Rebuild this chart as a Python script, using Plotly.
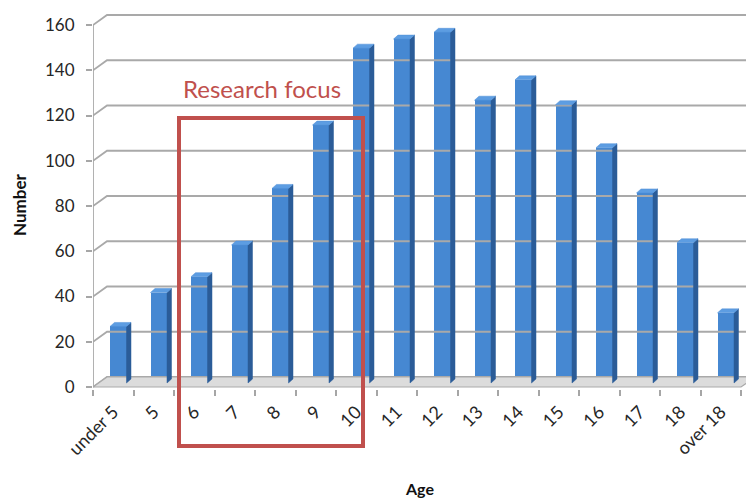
import plotly.graph_objects as go

# ---- data -------------------------------------------------------------
ages = ["under 5", "5", "6", "7", "8", "9", "10", "11", "12", "13",
        "14", "15", "16", "17", "18", "over 18"]
counts = [25, 40, 47, 61, 86, 114, 148, 152, 155, 125, 134, 123, 104, 84, 62, 31]
y_ticks = [0, 20, 40, 60, 80, 100, 120, 140, 160]

# ---- geometry (pixels) ------------------------------------------------
W, H = 746, 500
PLOT_L, PLOT_R, PLOT_T, PLOT_B = 93, 746, 5, 389
CAT_PX = 40.5          # width of one category
Y_PX = 2.2625          # pixels per unit on the value axis
Y_ZERO = 387           # pixel row of value 0 on the front plane

x_range = [-0.5, -0.5 + (PLOT_R - PLOT_L) / CAT_PX]
y_range = [-(PLOT_B - Y_ZERO) / Y_PX, (Y_ZERO - PLOT_T) / Y_PX]

# pseudo-3D depth offsets converted to axis units
wall_dx, wall_dy = 14 / CAT_PX, 10 / Y_PX      # back wall
lift = 4 / Y_PX                                # bars stand a little into the floor
bar_off, bar_w = -3.25 / CAT_PX, 16.5 / CAT_PX
side_dx, side_dy = 4.5 / CAT_PX, 4 / Y_PX

n = len(ages)
xpos = list(range(n))


def px_x(p):
    return (p - PLOT_L) / (PLOT_R - PLOT_L)


def px_y(p):
    return (PLOT_B - p) / (PLOT_B - PLOT_T)


fig = go.Figure()

# back-wall gridlines with their diagonal connectors, plus the front value axis
gx, gy = [], []
for v in y_ticks:
    gx += [-0.5, -0.5 + wall_dx, x_range[1] + 1, None]
    gy += [v, v + wall_dy, v + wall_dy, None]
gx += [-0.5, -0.5, None]
gy += [0, y_ticks[-1], None]
fig.add_trace(go.Scatter(x=gx, y=gy, mode="lines",
                         line=dict(color="#a9a9a9", width=1.8),
                         hoverinfo="skip", showlegend=False))

# floor
x_end = n - 0.5
fig.add_trace(go.Scatter(
    x=[-0.5, x_end, x_end + wall_dx, -0.5 + wall_dx, -0.5],
    y=[0, 0, wall_dy, wall_dy, 0],
    mode="lines", fill="toself", fillcolor="#dcdcdc",
    line=dict(color="#a9a9a9", width=1.2),
    hoverinfo="skip", showlegend=False))

# side and top faces of the columns
sx, sy, tx, ty = [], [], [], []
for i, v in enumerate(counts):
    xl = i + bar_off
    xr = xl + bar_w
    top = lift + v
    sx += [xr, xr + side_dx, xr + side_dx, xr, xr, None]
    sy += [lift, lift + side_dy, top + side_dy, top, lift, None]
    tx += [xl, xr, xr + side_dx, xl + side_dx, xl, None]
    ty += [top, top, top + side_dy, top + side_dy, top, None]
fig.add_trace(go.Scatter(x=sx, y=sy, mode="lines", fill="toself",
                         fillcolor="#2b5c98", line=dict(width=0.5, color="#2b5c98"),
                         hoverinfo="skip", showlegend=False))
fig.add_trace(go.Scatter(x=tx, y=ty, mode="lines", fill="toself",
                         fillcolor="#5d9de2", line=dict(width=0.5, color="#4f8fd6"),
                         hoverinfo="skip", showlegend=False))

# front faces of the columns
fig.add_trace(go.Bar(x=xpos, y=counts, base=lift, width=bar_w, offset=bar_off,
                     marker=dict(color="#4688d2", line=dict(width=0)),
                     showlegend=False))

RED = "#c0504d"
fig.add_shape(type="rect", xref="paper", yref="paper",
              x0=px_x(179), x1=px_x(363), y0=px_y(446), y1=px_y(118),
              line=dict(color=RED, width=4), layer="above")

fig.add_annotation(text="Research focus", xref="paper", yref="paper",
                   x=px_x(262), y=px_y(88), showarrow=False,
                   xanchor="center", yanchor="middle",
                   font=dict(family="Lato", size=24, color=RED))
fig.add_annotation(text="<b>Number</b>", xref="paper", yref="paper",
                   x=px_x(20), y=px_y(205), showarrow=False, textangle=-90,
                   xanchor="center", yanchor="middle",
                   font=dict(family="Lato", size=17, color="#111111"))
fig.add_annotation(text="<b>Age</b>", xref="paper", yref="paper",
                   x=px_x(419), y=px_y(488), showarrow=False,
                   xanchor="center", yanchor="middle",
                   font=dict(family="Lato", size=16, color="#111111"))

fig.update_layout(
    width=W, height=H,
    margin=dict(l=PLOT_L, r=W - PLOT_R, t=PLOT_T, b=H - PLOT_B, autoexpand=False),
    paper_bgcolor="white", plot_bgcolor="white",
    bargap=0, showlegend=False,
    xaxis=dict(range=x_range, tickmode="array", tickvals=xpos, ticktext=ages,
               tickangle=-45, ticks="", showgrid=False, zeroline=False,
               showline=False, fixedrange=True, ticklabelstandoff=8,
               tickfont=dict(family="Lato", size=18, color="#262626"),
               minor=dict(tickmode="array", tickvals=[i - 0.5 for i in range(n + 1)],
                          ticks="outside", ticklen=6, tickcolor="#a6a6a6",
                          tickwidth=1.5, showgrid=False)),
    yaxis=dict(range=y_range, tickmode="array", tickvals=y_ticks,
               ticks="outside", ticklen=6, tickcolor="#a6a6a6", tickwidth=1.5,
               showgrid=False, zeroline=False, showline=False, fixedrange=True,
               ticklabelstandoff=8,
               tickfont=dict(family="Lato", size=17, color="#262626")),
)

fig.write_html("out.html")
